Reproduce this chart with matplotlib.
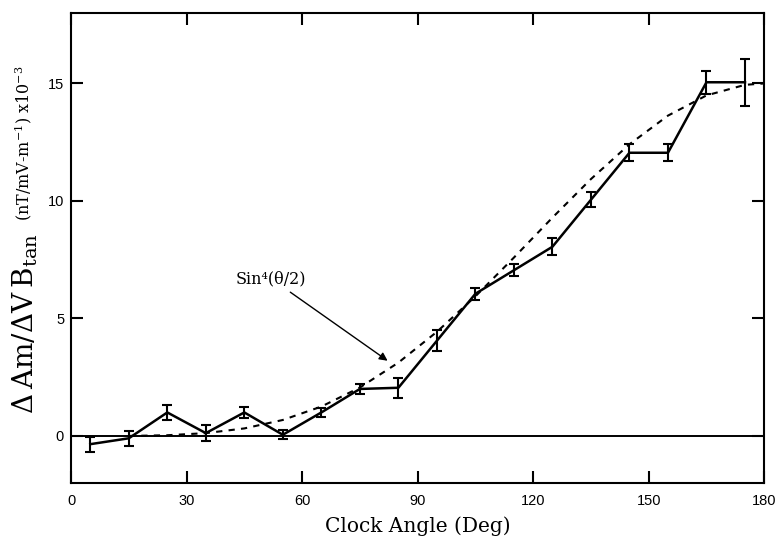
import numpy as np
import matplotlib
matplotlib.use('Agg')
import matplotlib.pyplot as plt

plt.rcParams['mathtext.fontset'] = 'dejavuserif'

# clock angle bins (deg) and measured ratio (x10^-3)
angle = [5, 15, 25, 35, 45, 55, 65, 75, 85, 95, 105, 115, 125, 135, 145, 155, 165, 175]
ratio = [-0.35, -0.1, 1.0, 0.12, 1.0, 0.05, 1.0, 2.0, 2.05, 4.05, 6.05, 7.05, 8.05, 10.05, 12.05, 12.05, 15.05, 15.05]
err = [0.32, 0.33, 0.33, 0.34, 0.25, 0.2, 0.2, 0.22, 0.43, 0.45, 0.25, 0.26, 0.37, 0.32, 0.37, 0.37, 0.48, 1.0]

# model curve
model_angle = [15, 25, 35, 45, 55, 65, 75, 85, 95, 105, 115, 125, 135, 145, 155, 165, 175, 180]
model_ratio = [0.0, 0.03, 0.12, 0.32, 0.68, 1.25, 2.06, 3.12, 4.43, 5.94, 7.59, 9.29, 10.93, 12.41, 13.63, 14.49, 14.94, 15.0]

xticks = [0, 30, 60, 90, 120, 150, 180]
yticks = [0, 5, 10, 15]

fig = plt.figure(figsize=(7.78, 5.39), dpi=100)
ax = fig.add_axes([0.0913, 0.104, 0.891, 0.872])

ax.axhline(0, color='black', lw=1.4, zorder=1)
ax.plot(model_angle, model_ratio, color='black', lw=1.5, ls=(0, (3, 3)), zorder=2)
ax.errorbar(angle, ratio, yerr=err, color='black', lw=1.8, elinewidth=1.5,
            capsize=3.4, capthick=1.5, zorder=3)

ax.annotate('Sin\u2074(\u03b8/2)', xy=(82.2, 3.2), xytext=(51.9, 6.7),
            ha='center', va='center', fontsize=11.5, family='DejaVu Serif',
            arrowprops=dict(arrowstyle='-|>', color='black', lw=1.0,
                            shrinkA=3, shrinkB=0, mutation_scale=12))

ax.set_xlim(0, 180)
ax.set_ylim(-2, 18)
ax.set_xticks(xticks)
ax.set_yticks(yticks)
ax.tick_params(direction='in', length=8.5, width=1.5, top=True, right=True,
               labelsize=10.5, pad=8)
ax.tick_params(axis='y', pad=5)
for lab in ax.get_xticklabels() + ax.get_yticklabels():
    lab.set_family('Liberation Sans')
for s in ax.spines.values():
    s.set_linewidth(1.5)

ax.set_xlabel('Clock Angle (Deg)', family='DejaVu Serif', fontsize=14.5, labelpad=6)

# y label in two sizes, like the original
fig.text(0.032, 0.40, '\u0394\u2009Am/\u0394V\u2009B$_{\\mathrm{tan}}$', rotation=90,
         ha='center', va='center', family='DejaVu Serif', fontsize=20)
fig.text(0.030, 0.735, '(nT/mV-m$^{-1}$) x10$^{-3}$', rotation=90,
         ha='center', va='center', family='DejaVu Serif', fontsize=11.5)

fig.savefig('out.png', dpi=100)
